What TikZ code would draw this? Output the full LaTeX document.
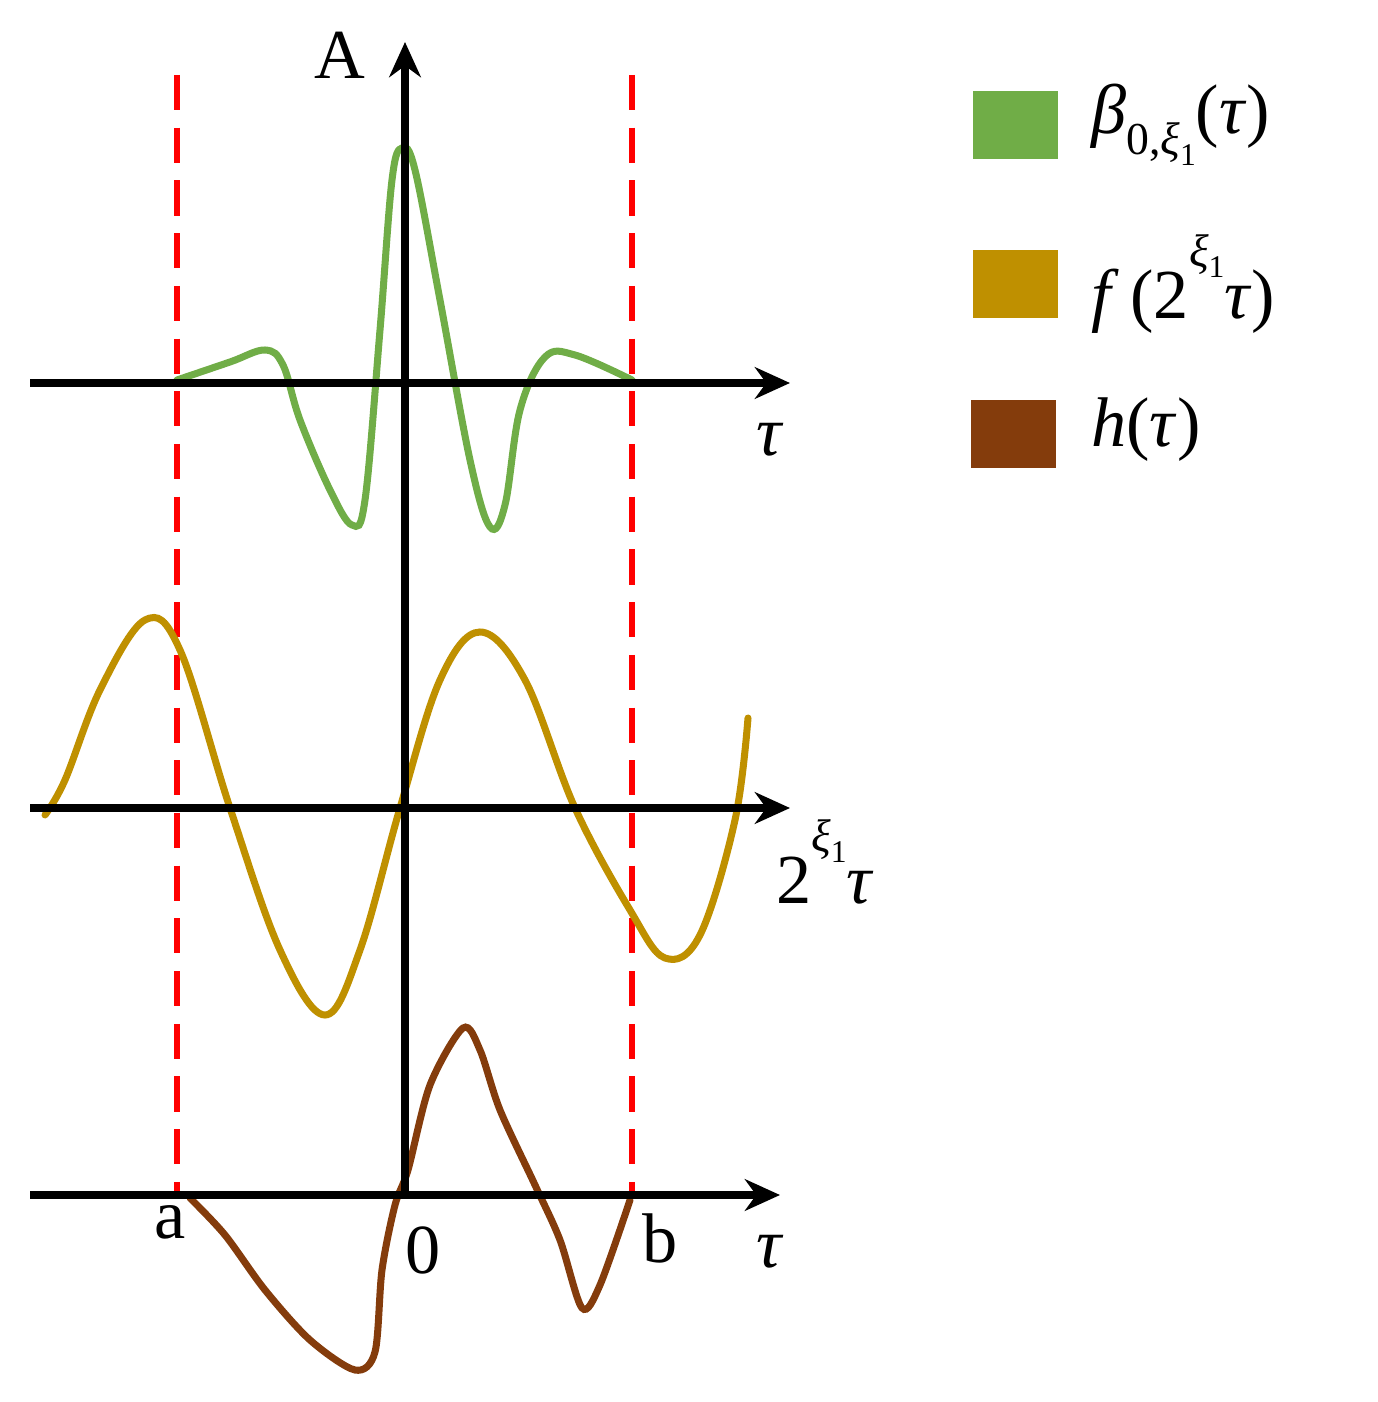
\documentclass[tikz,border=0pt]{standalone}
\usepackage{fontspec}
\setmainfont{Liberation Serif}
\usetikzlibrary{arrows.meta}
\definecolor{cgreen}{HTML}{70AD47}
\definecolor{cgold}{HTML}{BF9000}
\definecolor{cbrown}{HTML}{843C0C}
\newcommand{\mysub}[1]{\raisebox{-0.3em}{\fontsize{26}{28}\selectfont #1}}
\newcommand{\mysup}[1]{\raisebox{0.75em}{\fontsize{26}{28}\selectfont #1}}
\newcommand{\mysubb}[1]{\raisebox{-0.25em}{\fontsize{18}{20}\selectfont #1}}
\begin{document}
\begin{tikzpicture}[x=0.02cm,y=-0.02cm,
  ax/.style={line width=4.5pt,-{Stealth[length=20pt,width=18pt]}},
  red/.style={draw=red,line width=3.2pt,dash pattern=on 20pt off 10pt},
  crv/.style={line width=4pt,line cap=round},
  lbl/.style={font=\fontsize{40}{44}\selectfont},
  leg/.style={minimum width=1.7cm,minimum height=1.35cm,inner sep=0pt}]
\useasboundingbox (0,0) rectangle (1377,1402);
\coordinate (ra1) at (177,75); \coordinate (ra2) at (177,1195);
\coordinate (rb1) at (632,75); \coordinate (rb2) at (632,1195);
\draw[red] (ra1) -- (ra2);
\draw[red] (rb1) -- (rb2);
\coordinate (v0) at (405,1195); \coordinate (v1) at (405,42);
\coordinate (h1a) at (30,383); \coordinate (h1b) at (790,383);
\coordinate (h2a) at (30,808); \coordinate (h2b) at (790,808);
\coordinate (h3a) at (30,1195); \coordinate (h3b) at (780,1195);
\draw[crv,cgreen] plot[smooth,tension=0.6] coordinates {(177,380) (230,362) (265,350) (283,365) (300,420) (330,490) (352,525) (365,500) (380,330) (392,180) (402,148) (415,170) (440,300) (470,460) (490,527) (505,505) (520,410) (545,357) (575,355) (632,380)};
\draw[crv,cgold] plot[smooth,tension=0.6] coordinates {(45,815) (65,780) (100,690) (145,620) (180,650) (230,808) (280,950) (325,1015) (360,950) (400,808) (440,680) (480,632) (525,680) (575,808) (630,910) (665,958) (700,935) (735,820) (748,718)};
\draw[crv,cbrown] plot[smooth,tension=0.5] coordinates {(190,1198) (225,1235) (265,1290) (310,1340) (355,1370) (375,1352) (382,1270) (395,1205) (408,1170) (430,1085) (463,1028) (480,1050) (500,1110) (535,1185) (560,1240) (582,1308) (600,1285) (630,1200)};
\draw[ax] (h1a) -- (h1b);
\draw[ax] (h2a) -- (h2b);
\draw[ax] (h3a) -- (h3b);
\draw[ax] (v0) -- (v1);
\node[lbl] (lA) at (340,55) {A};
\node[lbl] (t1) at (770,440) {\textit{τ}};
\node[lbl] (t2) at (825,862) {2\mysup{\textit{ξ}\mysubb{1}}\textit{τ}};
\node[lbl] (la) at (170,1222) {a};
\node[lbl] (l0) at (423,1250) {0};
\node[lbl] (lb) at (660,1238) {b};
\node[lbl] (t3) at (770,1252) {\textit{τ}};
\node[leg,fill=cgreen] (g1) at (1015,125) {};
\node[leg,fill=cgold] (g2) at (1015,284) {};
\node[leg,fill=cbrown] (g3) at (1013,434) {};
\node[lbl,anchor=west] (k1) at (1085,125) {\textit{β}\mysub{0,\textit{ξ}\mysubb{1}}(\textit{τ})};
\node[lbl,anchor=west] (k2) at (1085,284) {\textit{f}\,(2\mysup{\textit{ξ}\mysubb{1}}\textit{τ})};
\node[lbl,anchor=west] (k3) at (1085,430) {\textit{h}(\textit{τ})};
\end{tikzpicture}
\end{document}
